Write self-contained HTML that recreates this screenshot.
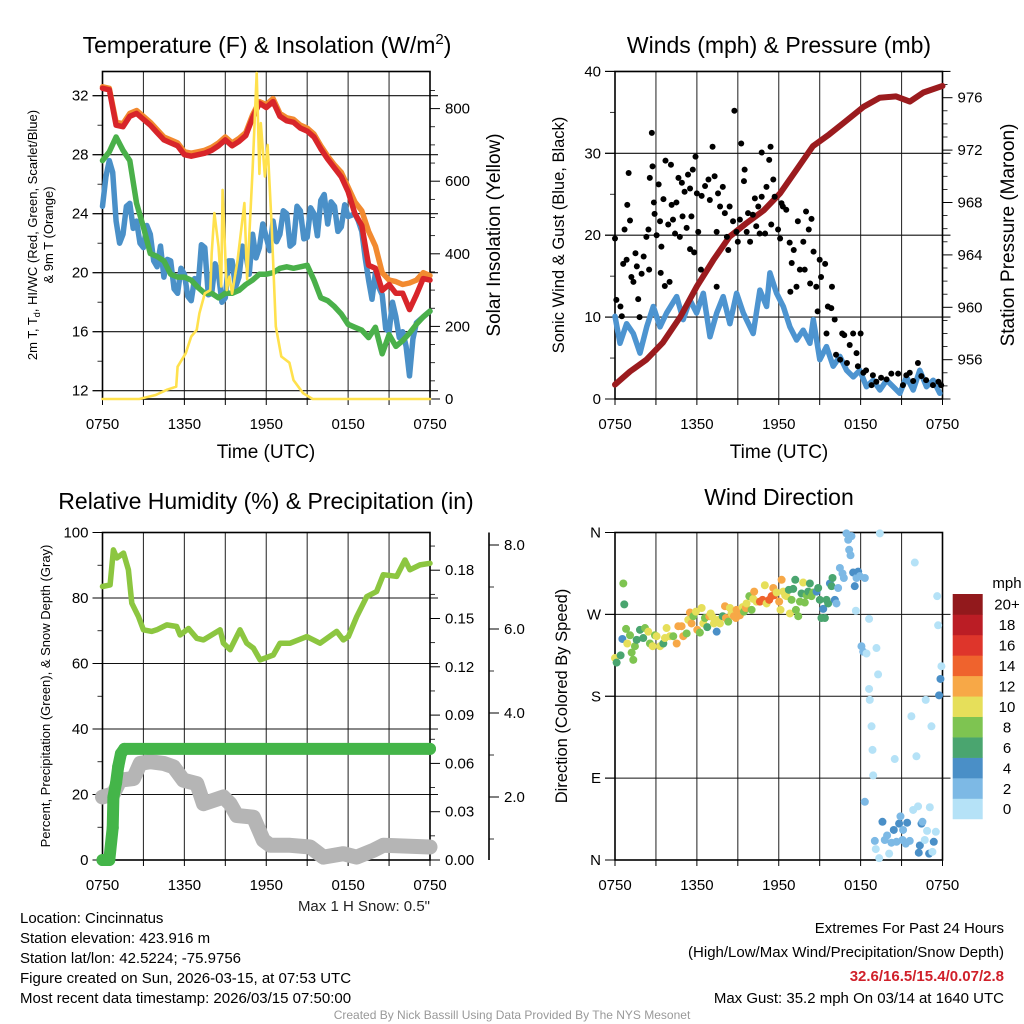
<!DOCTYPE html>
<html><head><meta charset="utf-8">
<style>
html,body{margin:0;padding:0;background:#fff;}
svg{display:block;font-family:"Liberation Sans",Arial,sans-serif;}
</style></head>
<body>
<svg id="fig" width="1024" height="1024" viewBox="0 0 1024 1024" xmlns="http://www.w3.org/2000/svg">
<rect x="0" y="0" width="1024" height="1024" fill="#fff"/>
<g id="layer"></g>
<text x="267" y="53" font-size="23" text-anchor="middle">Temperature (F) &amp; Insolation (W/m<tspan dy="-9" font-size="15">2</tspan><tspan dy="9">)</tspan></text>
<text x="779" y="53" font-size="23" text-anchor="middle">Winds (mph) &amp; Pressure (mb)</text>
<text x="266" y="509" font-size="23" text-anchor="middle">Relative Humidity (%) &amp; Precipitation (in)</text>
<text x="779" y="505" font-size="23" text-anchor="middle">Wind Direction</text>
<text x="266" y="458" font-size="19" text-anchor="middle">Time (UTC)</text>
<text x="779" y="458" font-size="19" text-anchor="middle">Time (UTC)</text>
<text transform="translate(41,235) rotate(-90)" font-size="13" text-anchor="middle"><tspan x="0" y="-4">2m T, T<tspan font-size="9" dy="3">d</tspan><tspan dy="-3">, HI/WC (Red, Green, Scarlet/Blue)</tspan></tspan><tspan x="0" y="12">&amp; 9m T (Orange)</tspan></text>
<text transform="translate(500,235) rotate(-90)" font-size="19" text-anchor="middle">Solar Insolation (Yellow)</text>
<text transform="translate(564,235) rotate(-90)" font-size="16.5" text-anchor="middle">Sonic Wind &amp; Gust (Blue, Black)</text>
<text transform="translate(1014,235) rotate(-90)" font-size="19" text-anchor="middle">Station Pressure (Maroon)</text>
<text transform="translate(50,696) rotate(-90)" font-size="13" text-anchor="middle">Percent, Precipitation (Green), &amp; Snow Depth (Gray)</text>
<text transform="translate(567,696) rotate(-90)" font-size="16.5" text-anchor="middle">Direction (Colored By Speed)</text>
<text x="1007" y="588" font-size="15" text-anchor="middle">mph</text>
<text x="430" y="911" font-size="15" text-anchor="end" fill="#222">Max 1 H Snow: 0.5"</text>
<g font-size="15" fill="#000">
<text x="20" y="923">Location: Cincinnatus</text>
<text x="20" y="943">Station elevation: 423.916 m</text>
<text x="20" y="963">Station lat/lon: 42.5224; -75.9756</text>
<text x="20" y="983">Figure created on Sun, 2026-03-15, at 07:53 UTC</text>
<text x="20" y="1003">Most recent data timestamp: 2026/03/15 07:50:00</text>
</g>
<g font-size="15" text-anchor="end">
<text x="1004" y="933">Extremes For Past 24 Hours</text>
<text x="1004" y="957">(High/Low/Max Wind/Precipitation/Snow Depth)</text>
<text x="1004" y="981" fill="#d0202a" font-weight="bold">32.6/16.5/15.4/0.07/2.8</text>
<text x="1004" y="1003">Max Gust: 35.2 mph On 03/14 at 1640 UTC</text>
</g>
<text x="512" y="1019" font-size="12" fill="#999" text-anchor="middle">Created By Nick Bassill Using Data Provided By The NYS Mesonet</text>
</svg>
<script>
// ===== time categories (hours since 0750 UTC) =====
const tHalf = Array.from({length:49}, (_, i) => i / 2);
const tQuarter = Array.from({length:97}, (_, i) => i / 4);
const timeTickLabels = ["0750","1350","1950","0150","0750"];

// ===== Panel 1: temperatures (F) =====
const tempRed = [32.5,32.4,30.0,29.9,30.6,30.8,30.4,30.0,29.5,29.0,28.8,28.6,28.0,27.9,28.0,28.1,28.3,28.6,29.0,28.6,28.9,29.3,30.5,31.5,31.2,31.6,30.6,30.3,30.2,29.8,29.6,29.2,28.4,27.7,27.1,26.5,25.5,24.0,23.2,20.5,20.3,18.8,19.2,18.6,18.6,17.5,18.5,19.6,19.5];
const tempOrange = [32.6,32.5,30.2,30.1,30.8,31.0,30.6,30.2,29.7,29.2,29.0,28.8,28.2,28.1,28.2,28.3,28.5,28.8,29.2,28.8,29.1,29.5,30.7,31.6,31.4,31.8,30.8,30.5,30.4,30.0,29.8,29.4,28.6,27.9,27.3,26.8,25.8,24.8,24.2,22.8,21.8,20.0,19.5,19.4,19.2,19.3,19.5,20.0,19.8];
const tempDew = [27.6,28.2,29.2,28.3,27.6,24.7,23.1,21.3,21.1,20.8,19.9,19.7,19.7,19.5,19.0,18.6,18.6,18.3,18.6,18.6,18.8,19.2,19.5,19.9,19.9,20.0,20.3,20.4,20.3,20.4,20.5,19.5,18.3,18.1,17.7,17.2,16.5,16.3,16.1,15.6,16.3,14.5,15.8,15.0,15.4,15.9,16.5,17.0,17.4];
const tempWindChill = [24.5,26.5,27.6,26.8,23.5,22.0,22.6,24.5,24.7,23.0,23.5,22.0,21.7,23.2,22.6,20.8,20.4,21.8,19.7,20.9,20.8,18.9,18.6,20.3,19.9,18.4,18.1,19.6,19.0,21.9,21.7,18.5,18.6,20.6,19.9,18.0,18.3,20.8,20.8,19.0,19.7,21.8,21.3,19.9,22.6,21.0,21.7,23.3,22.4,21.5,23.5,22.1,22.6,24.2,24.0,21.8,22.0,24.5,24.2,22.3,22.4,24.4,24.0,22.5,24.9,25.3,23.3,24.8,24.5,22.8,23.1,24.6,23.8,23.9,24.0,23.5,22.8,21.0,19.5,18.2,20.0,19.0,18.5,16.2,16.0,18.0,17.0,15.6,16.0,15.0,13.0,15.5,16.6,16.8,17.0,17.2,17.4];
const solarHours = [0,2.7,3.9,4.7,5.4,5.5,6.1,6.5,6.9,7.1,7.5,7.9,8.0,8.2,8.5,8.7,8.8,9.1,9.3,9.5,9.9,10.4,10.6,11.0,11.3,11.5,11.6,11.9,12.1,12.4,12.7,13.1,13.7,14.0,14.7,15.4,24];
const solarVals = [0,0,11,25,34,89,126,172,190,236,291,300,402,512,420,310,576,300,337,290,383,540,330,632,898,620,760,613,700,475,200,117,100,52,16,0,0];
const tempTicks = [12,16,20,24,28,32];
const solarTicks = [0,200,400,600,800];

// ===== Panel 2: winds & pressure =====
const windHours = [0,0.37,0.85,1.34,1.83,2.32,2.81,3.30,3.78,4.52,5.00,5.49,5.98,6.47,6.96,7.45,7.93,8.42,8.91,9.40,10.13,10.62,11.11,11.35,11.84,12.33,12.82,13.31,13.79,14.28,14.53,15.01,15.50,15.99,16.48,16.97,17.46,17.94,18.43,18.92,19.41,19.90,20.39,20.87,21.36,21.85,22.34,22.83,23.32,23.80];
const windSpeed = [10.1,6.8,9.2,8.0,5.6,8.8,11.3,8.8,10.5,12.5,9.7,12.1,10.5,12.9,7.6,10.5,12.5,9.2,12.9,10.5,8.0,13.3,11.3,15.4,12.9,11.3,8.8,7.2,8.4,6.8,9.7,4.8,6.4,4.0,5.2,3.5,2.7,3.5,1.5,2.3,1.1,2.3,1.5,0.7,2.7,1.1,3.5,1.5,2.3,0.7];
const gustHours = [0,0.1,0.4,0.5,0.6,0.85,1.0,0.9,1.1,0.7,1.2,1.35,1.5,1.6,1.7,1.8,1.95,2.1,2.3,2.45,2.5,2.55,2.7,2.75,2.85,2.9,3.05,3.2,3.3,3.35,3.4,3.55,3.65,3.7,3.9,4.0,4.1,4.15,4.25,4.4,4.5,4.65,4.75,4.9,4.95,5.1,5.25,5.35,5.5,5.5,5.6,5.7,5.8,5.9,6.0,6.1,6.3,6.35,6.6,6.85,6.95,7.15,7.3,7.45,7.45,7.55,7.7,7.9,8.05,8.2,8.3,8.4,8.65,8.75,8.9,9.0,9.15,9.25,9.45,9.5,9.65,9.75,9.9,10.1,10.25,10.35,10.5,10.6,10.75,10.75,11.0,11.1,11.3,11.4,11.45,11.6,11.7,11.95,12.1,12.2,12.3,12.55,12.8,12.85,12.95,13.1,13.3,13.4,13.55,13.8,13.9,14.0,14.2,14.3,14.4,14.55,14.75,14.85,15.0,15.1,15.4,15.5,15.6,15.85,15.9,16.1,16.2,16.5,16.65,16.8,17.0,17.2,17.45,17.7,17.8,18.0,18.2,18.4,18.8,18.9,19.15,19.5,19.9,20.25,20.75,21.1,21.35,21.6,21.85,22.2,22.45,22.8,23.3,23.7,23.9];
const gustSpeed = [19.6,12.1,11.3,10.1,16.5,17.0,27.6,23.7,21.8,20.7,14.9,14.3,17.8,16.2,12.2,10.0,15.3,17.4,19.8,20.7,15.8,27.0,32.5,28.4,24.0,22.6,20.0,26.2,21.7,15.4,18.6,24.4,13.8,29.1,21.3,14.3,28.6,23.7,21.9,20.2,24.0,27.0,19.8,26.4,22.3,25.3,20.9,27.4,25.7,18.3,22.3,28.0,17.9,29.6,25.1,20.4,15.8,24.8,26.0,26.8,24.3,30.8,27.2,20.4,13.7,25.1,23.5,25.9,22.7,19.8,18.2,23.5,21.7,35.2,20.4,19.2,21.9,31.2,26.6,28.0,20.4,22.7,19.2,22.5,24.5,21.1,23.5,20.2,24.7,30.1,20.2,25.9,29.2,30.8,21.3,26.8,24.7,20.7,19.6,23.9,23.5,23.1,19.1,13.1,16.6,18.2,13.7,21.7,15.8,19.2,15.8,22.9,20.7,14.1,22.0,18.0,13.7,10.7,17.0,14.9,16.5,8.0,11.3,11.1,13.7,9.7,5.4,4.8,8.0,7.8,4.4,6.6,8.0,5.6,4.0,8.0,3.2,3.5,1.7,2.9,2.1,2.6,2.4,3.1,3.1,1.7,2.9,3.2,2.2,4.4,2.8,2.3,1.7,2.1,1.7];
const presHours = [0,1.1,2.3,3.5,4.8,6.0,7.2,8.4,9.6,10.9,12.1,13.3,14.5,15.7,16.9,18.2,19.4,20.6,21.6,22.6,24];
const presVals = [954.1,955.1,956.0,957.3,959.3,961.6,963.6,965.4,966.4,967.4,968.7,970.5,972.3,973.2,974.2,975.3,976.0,976.1,975.7,976.4,976.9];
const windTicks = [0,10,20,30,40];
const presTicks = [956,960,964,968,972,976];

// ===== Panel 3: RH, precip, snow =====
const rhHours = [0,0.56,0.8,1.05,1.54,1.9,2.15,2.64,3.0,3.61,3.98,4.71,5.44,5.69,6.3,6.91,7.4,8.62,8.86,9.35,10.08,10.57,11.06,11.55,12.52,13.01,13.75,14.97,15.94,17.16,17.65,18.02,18.63,19.36,20.09,20.58,21.56,22.17,22.53,23.27,24];
const rhVals = [83.5,84.0,94.7,92.2,93.7,88.6,78.4,74.3,70.3,69.8,70.3,71.8,71.3,68.7,70.7,67.7,67.2,70.3,66.2,64.2,70.3,66.2,64.7,61.1,62.6,66.2,66.2,68.2,66.2,69.8,67.2,68.2,74.3,80.4,82.0,87.1,86.6,91.6,88.6,90.1,90.6];
const precipHours = [0,0.25,0.5,0.75,0.8,1.0,1.15,1.35,1.6,24];
const precipVals = [0,0,0,0.02,0.039,0.048,0.058,0.066,0.069,0.069];
const snowHours = [0,0.8,1.29,2.27,2.76,3.49,4.47,5.2,5.93,6.91,7.4,8.86,9.35,9.84,11.06,11.79,12.28,13.75,15.21,16.19,17.65,18.63,19.85,20.58,24];
const snowVals = [2.0,2.08,2.4,2.44,2.8,2.84,2.8,2.72,2.4,2.32,1.84,2.0,1.84,1.56,1.52,0.97,0.85,0.85,0.81,0.57,0.65,0.57,0.73,0.85,0.81];
const rhTicks = [0,20,40,60,80,100];
const precipTicks = [0,0.03,0.06,0.09,0.12,0.15,0.18];
const snowTicks = [2,4,6,8];

// ===== Panel 4: wind direction =====
const dirHours = [
0,0.12,0.41,0.54,0.61,0.68,0.81,0.90,1.10,1.22,
1.34,1.46,1.59,1.83,2.07,2.20,2.44,2.56,2.76,2.93,
3.05,3.30,3.54,3.66,3.78,4.03,4.27,4.52,4.64,4.88,
5.00,5.25,5.37,5.49,5.61,5.74,5.93,6.03,6.22,6.35,
6.47,6.59,6.76,6.91,7.01,7.15,7.25,7.45,7.57,7.69,
7.89,8.06,8.13,8.30,8.42,8.54,8.71,8.86,8.91,9.03,
9.15,9.35,9.45,9.59,9.64,9.84,10.01,10.13,10.20,10.37,
10.62,10.81,10.98,11.11,11.30,11.47,11.60,11.67,11.84,12.03,
12.13,12.21,12.33,12.47,12.57,12.74,12.82,12.94,13.06,13.21,
13.26,13.43,13.55,13.67,13.79,13.91,14.04,14.16,14.28,14.40,
14.52,14.77,14.89,15.01,15.13,15.26,15.38,15.50,15.62,15.75,
15.87,15.94,16.11,16.23,16.35,16.48,16.67,16.77,16.96,17.09,
17.16,17.26,17.33,17.45,17.57,17.65,17.70,17.82,17.94,18.06,
18.19,18.31,18.43,18.62,18.62,18.67,18.80,18.87,18.92,18.31,
19.16,19.28,19.41,19.04,19.11,19.36,19.60,19.77,19.94,20.09,
20.26,20.43,20.50,20.63,20.82,20.92,21.07,21.11,21.31,21.41,
21.60,21.72,21.85,21.97,22.09,22.21,22.26,22.34,22.46,22.53,
22.70,22.77,22.87,23.02,23.07,23.19,23.26,23.36,23.51,23.61,
23.68,23.75,23.85,23.92];
const dirDeg = [
222,217,225,243,304,281,254,238,247,228,
220,235,242,253,244,255,251,238,235,247,
246,235,238,244,255,246,246,238,257,257,
246,249,264,272,260,268,273,253,250,277,
260,266,256,268,271,267,260,251,264,260,
268,279,266,262,277,271,268,266,275,269,
269,278,273,277,282,290,275,287,295,284,
284,286,302,282,286,290,299,291,294,284,
275,308,295,291,290,297,271,286,298,308,
275,268,284,293,305,283,291,295,304,290,
294,295,299,286,266,276,266,286,282,304,
301,310,286,282,299,321,315,310,359,352,
341,335,356,316,301,274,310,317,312,235,
229,310,227,265,188,176,147,121,93,64,
233,204,359,21,12,2,42,22,27,7,
19,33,111,20,40,48,22,33,18,41,
21,158,55,327,114,59,8,16,40,42,
22,176,32,7,58,147,9,20,31,290,
258,181,199,213];
const dirSpeed = [
10,6,6,4,8,6,8,10,8,8,
8,8,6,6,6,8,10,8,10,8,
10,10,6,10,10,10,8,12,12,12,
12,8,10,12,12,8,10,12,8,10,
10,8,6,12,10,10,10,4,10,10,
6,12,12,8,10,10,12,12,12,12,
12,10,8,12,10,8,8,10,12,10,
14,14,10,10,14,14,12,14,10,12,
10,12,10,10,10,6,10,8,6,6,
8,8,8,6,10,8,8,6,6,8,
8,4,6,6,6,4,6,6,6,4,
6,6,4,2,2,2,2,2,2,2,
2,2,2,4,4,0,2,4,2,2,
2,2,0,0,0,0,0,0,0,2,
0,0,0,2,0,0,4,2,2,0,
2,4,0,2,4,2,2,2,2,4,
2,0,0,0,0,0,4,4,4,2,
0,0,0,4,0,0,0,4,0,0,
0,4,4,0];
const dirTickLabels = ["N","E","S","W","N"];
const speedLabels = ["0","2","4","6","8","10","12","14","16","18","20+"];
const speedColors = ["#b5e2f7","#7db9e5","#4a8fc7","#4aa56f","#7ec451","#e6df5a","#f7a847","#ef632d","#de352b","#bb1d25","#92191c"];

// ===== scales =====
const P1 = {x0:102.5, x1:430, y0:71.5, y1:399};
const P2 = {x0:615, x1:942.5, y0:71.5, y1:399};
const P3 = {x0:102.5, x1:430, y0:532.5, y1:860};
const P4 = {x0:615, x1:942.5, y0:532.5, y1:860};
const xS = (P, h) => P.x0 + h / 24 * (P.x1 - P.x0);
const yTemp = v => 95.7 + (32 - v) * 14.75;
const ySolar = v => 399 - v * 0.363;
const yWind = v => 399 - v * 8.19;
const yPres = v => 97.7 + (976 - v) * 13.1;
const yRH = v => 860 - v * 3.275;
const yPrecip = v => 860 - v * 1610;
const ySnow = v => 797 - (v - 2) * 42;
const yDir = v => 860 - v * (327.5 / 360);

const NS = "http://www.w3.org/2000/svg";
const layer = document.getElementById("layer");
function mk(tag, attrs, parent) {
  const e = document.createElementNS(NS, tag);
  for (const k in attrs) e.setAttribute(k, attrs[k]);
  (parent || layer).appendChild(e);
  return e;
}
function pathFrom(xs, ys) {
  return xs.map((x, i) => (i ? "L" : "M") + x.toFixed(1) + "," + ys[i].toFixed(1)).join("");
}

function drawFrame(P, name, hGrid, leftTicks, leftMinor, leftLabels, yFn) {
  const g = mk("g", {});
  
  
  for (let h = 3; h < 24; h += 3) {
    const x = xS(P, h);
    const l = mk("line", {x1:x, x2:x, y1:P.y0, y2:P.y1, stroke:"#333", "stroke-width":1.1}, g);
    
    
  }
  for (const v of hGrid) {
    const y = yFn(v);
    const l = mk("line", {x1:P.x0 - 10, x2:P.x1 + 8, y1:y, y2:y, stroke:"#111", "stroke-width":1.1}, g);
    
    
  }
  const fr = mk("rect", {x:P.x0, y:P.y0, width:P.x1 - P.x0, height:P.y1 - P.y0, fill:"none", stroke:"#000", "stroke-width":1.6}, g);
  
  
  leftTicks.forEach((v, i) => {
    const y = yFn(v);
    const t = mk("line", {x1:P.x0 - 10, x2:P.x0, y1:y, y2:y, stroke:"#000", "stroke-width":1}, g);
    
    
    const tx = mk("text", {x:P.x0 - 14, y:y + 5, "font-size":15, "text-anchor":"end"}, g);
    tx.textContent = leftLabels[i];
    
    
  });
  for (const v of leftMinor) {
    const y = yFn(v);
    const t = mk("line", {x1:P.x0 - 5, x2:P.x0, y1:y, y2:y, stroke:"#000", "stroke-width":0.8}, g);
    
    
  }
  for (let h = 0; h <= 24; h += 3) {
    const x = xS(P, h);
    const t = mk("line", {x1:x, x2:x, y1:P.y1, y2:P.y1 + 6, stroke:"#000", "stroke-width":1}, g);
    
    
  }
  timeTickLabels.forEach((lab, i) => {
    const tx = mk("text", {x:xS(P, i * 6), y:P.y1 + 30, "font-size":15, "text-anchor":"middle"}, g);
    tx.textContent = lab;
    
    
  });
}
function drawRightAxis(P, name, x, ticks, labels, minor, yFn, fmt, line) {
  const g = mk("g", {});
  
  
  if (line) {
    const l = mk("line", {x1:x, x2:x, y1:line[0], y2:line[1], stroke:"#000", "stroke-width":1.6}, g);
    
    
  }
  ticks.forEach((v, i) => {
    const y = yFn(v);
    const t = mk("line", {x1:x, x2:x + 10, y1:y, y2:y, stroke:"#000", "stroke-width":1}, g);
    
    
    const tx = mk("text", {x:x + 15, y:y + 5, "font-size":15}, g);
    tx.textContent = labels[i];
    
    
  });
  for (const v of minor) {
    const y = yFn(v);
    const t = mk("line", {x1:x, x2:x + 5, y1:y, y2:y, stroke:"#000", "stroke-width":0.8}, g);
    
    
  }
}
function range(a, b, s) { const r = []; for (let v = a; v <= b + 1e-9; v += s) r.push(+v.toFixed(4)); return r; }
function line(xs, ys, color, w, name) {
  const p = mk("path", {d:pathFrom(xs, ys), fill:"none", stroke:color, "stroke-width":w, "stroke-linejoin":"round", "stroke-linecap":"round"});
  
  
  return p;
}

// ===== Panel 1 =====
drawFrame(P1, "temp", tempTicks, tempTicks, range(14, 32, 2).filter(v => v % 4 !== 0), tempTicks.map(String), yTemp);
drawRightAxis(P1, "solar-axis", P1.x1, solarTicks, solarTicks.map(String), range(50, 850, 50).filter(v => v % 200 !== 0), ySolar);
line(tQuarter.map(h => xS(P1, h)), tempWindChill.map(yTemp), "#4a90c8", 5.5, "wind-chill-line");
line(tHalf.map(h => xS(P1, h)), tempDew.map(yTemp), "#4ab04a", 5.5, "dewpoint-line");
line(tHalf.map(h => xS(P1, h)), tempOrange.map(yTemp), "#f28a30", 5.5, "temp-9m-line");
line(tHalf.map(h => xS(P1, h)), tempRed.map(yTemp), "#d8252a", 5.5, "temp-2m-line");
line(solarHours.map(h => xS(P1, h)), solarVals.map(v => Math.max(ySolar(v), 72)), "#ffe14d", 2.6, "solar-insolation-line");

// ===== Panel 2 =====
drawFrame(P2, "wind", windTicks, windTicks, range(5, 35, 10), windTicks.map(String), yWind);
drawRightAxis(P2, "pressure-axis", P2.x1, presTicks, presTicks.map(String), range(953, 978, 1).filter(v => v % 4 !== 0), yPres);
line(windHours.map(h => xS(P2, h)), windSpeed.map(yWind), "#4d94d0", 5.5, "sonic-wind-line");
line(presHours.map(h => xS(P2, h)), presVals.map(yPres), "#9b1b1e", 6, "pressure-line");
gustHours.forEach((h, i) => {
  const c = mk("circle", {cx:xS(P2, h), cy:yWind(gustSpeed[i]), r:3, fill:"#000"});
  
  
});

// ===== Panel 3 =====
drawFrame(P3, "rh", [20, 40, 60, 80], rhTicks, range(10, 90, 20), rhTicks.map(String), yRH);
drawRightAxis(P3, "precip-axis", P3.x1, precipTicks, precipTicks.map(v => v.toFixed(2)), range(0.015, 0.195, 0.03), yPrecip);
drawRightAxis(P3, "snow-axis", 489, snowTicks, snowTicks.map(v => v.toFixed(1)), [1, 3, 5, 7], ySnow, null, [532.5, 860]);
line(snowHours.map(h => xS(P3, h)), snowVals.map(ySnow), "#b5b5b5", 15, "snow-depth-line");
line(precipHours.map(h => xS(P3, h)), precipVals.map(yPrecip), "#44b549", 12, "precip-line");
precipHours.forEach((h, i) => {
  const c = mk("circle", {cx:xS(P3, h), cy:yPrecip(precipVals[i]), r:6, fill:"#44b549"});
  
  
});
line(rhHours.map(h => xS(P3, h)), rhVals.map(yRH), "#8cc640", 5.5, "rh-line");

// ===== Panel 4 =====
drawFrame(P4, "direction", [90, 180, 270], [0, 90, 180, 270, 360], [], dirTickLabels, yDir);
dirHours.forEach((h, i) => {
  const idx = Math.min(10, Math.floor((dirSpeed[i] || 0) / 2));
  const c = mk("circle", {cx:xS(P4, h), cy:yDir(dirDeg[i]), r:4, fill:speedColors[idx]});
  
  
});
const cbTop = 594, cbH = 20.45;
speedLabels.forEach((lab, i) => {
  const k = speedLabels.length - 1 - i;
  const r = mk("rect", {x:952.7, y:cbTop + k * cbH, width:30, height:cbH + 0.3, fill:speedColors[i]});
  
  
  const t = mk("text", {x:1007, y:cbTop + k * cbH + cbH / 2 + 5.5, "font-size":15, "text-anchor":"middle"});
  t.textContent = lab;
  
  
});
</script>
</body></html>
